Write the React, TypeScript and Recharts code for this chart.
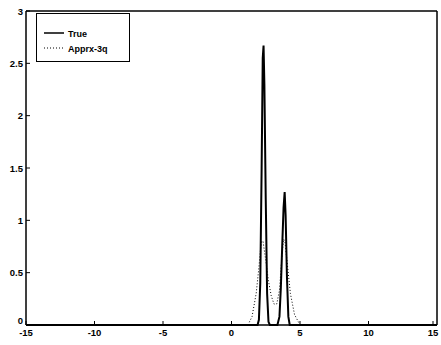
import React from 'react';
import { LineChart, Line, XAxis, YAxis, ReferenceArea } from 'recharts';

const xTicks = [-15, -10, -5, 0, 5, 10, 15];
const yTicks = [0, 0.5, 1, 1.5, 2, 2.5, 3];
const yTickLabels = ['0', '0.5', '1', '1.5', '2', '2.5', '3'];
const seriesNames = ['True', 'Apprx-3q'];

const trueX = [-15, 1.9, 2.0, 2.1, 2.2, 2.28, 2.34, 2.4, 2.5, 2.6, 2.7, 2.8, 3.35, 3.5, 3.6, 3.7, 3.8, 3.88, 3.95, 4.05, 4.15, 4.25, 15];
const trueY = [0, 0, 0.05, 0.4, 1.5, 2.55, 2.67, 2.3, 1.2, 0.3, 0.03, 0, 0, 0.08, 0.35, 0.75, 1.12, 1.27, 1.05, 0.45, 0.08, 0, 0];

const apprxX = [-15, 1.2, 1.5, 1.8, 2.0, 2.1, 2.2, 2.3, 2.5, 2.7, 2.9, 3.1, 3.3, 3.5, 3.65, 3.8, 3.9, 4.1, 4.3, 4.6, 5.0, 15];
const apprxY = [0, 0, 0.08, 0.3, 0.55, 0.7, 0.8, 0.8, 0.62, 0.42, 0.28, 0.2, 0.2, 0.33, 0.6, 0.82, 0.8, 0.55, 0.3, 0.1, 0, 0];

const trueData = trueX.map((x, i) => ({ x, y: trueY[i] }));
const apprxData = apprxX.map((x, i) => ({ x, y: apprxY[i] }));

const FONT = '"Liberation Sans", Arial, sans-serif';

const BottomTick = (props: any) => {
  const { x, y, payload } = props;
  return (
    <g>
      <line x1={x} y1={y} x2={x} y2={y - 4} stroke="#000" strokeWidth={1} />
      <text x={x} y={y + 11} textAnchor="middle" fontSize={9.5} fontWeight="bold" fontFamily={FONT} fill="#000">
        {payload.value}
      </text>
    </g>
  );
};

const TopTick = (props: any) => {
  const { x, y } = props;
  return <line x1={x} y1={y} x2={x} y2={y + 4} stroke="#000" strokeWidth={1} />;
};

const LeftTick = (props: any) => {
  const { x, y, payload } = props;
  const label = yTickLabels[yTicks.indexOf(payload.value)] ?? String(payload.value);
  return (
    <g>
      <line x1={x} y1={y} x2={x + 4} y2={y} stroke="#000" strokeWidth={1} />
      <text x={x - 3} y={payload.value === 0 ? y - 1 : y + 3.5} textAnchor="end" fontSize={9.5} fontWeight="bold" fontFamily={FONT} fill="#000">
        {label}
      </text>
    </g>
  );
};

const RightTick = (props: any) => {
  const { x, y } = props;
  return <line x1={x} y1={y} x2={x - 4} y2={y} stroke="#000" strokeWidth={1} />;
};

const LegendBox = () => (
  <svg width={94} height={49} style={{ display: 'block' }}>
    <rect x={0.5} y={0.5} width={93} height={48} fill="#fff" stroke="#000" strokeWidth={1} />
    <line x1={8} y1={20} x2={28} y2={20} stroke="#000" strokeWidth={1.5} />
    <text x={32} y={23.5} fontSize={9} fontWeight="bold" fontFamily={FONT} fill="#000">{seriesNames[0]}</text>
    <line x1={8} y1={35} x2={28} y2={35} stroke="#000" strokeWidth={1} strokeDasharray="1 2" />
    <text x={32} y={38.5} fontSize={9} fontWeight="bold" fontFamily={FONT} fill="#000">{seriesNames[1]}</text>
  </svg>
);

export default function App() {
  return (
    <div style={{ position: 'absolute', left: 0, top: 0, width: 441, height: 345, background: '#fff' }}>
      <LineChart width={441} height={345} margin={{ top: 10, right: 3, left: 0, bottom: 0 }}>
        <XAxis
          xAxisId="b"
          dataKey="x"
          type="number"
          domain={[-15, 15]}
          ticks={xTicks}
          allowDataOverflow
          orientation="bottom"
          height={20}
          tickSize={0}
          tickMargin={0}
          tick={<BottomTick />}
          axisLine={{ stroke: '#000' }}
          tickLine={false}
        />
        <XAxis
          xAxisId="t"
          dataKey="x"
          type="number"
          domain={[-15, 15]}
          ticks={xTicks}
          orientation="top"
          height={1}
          tickSize={0}
          tickMargin={0}
          tick={<TopTick />}
          axisLine={{ stroke: '#000' }}
          tickLine={false}
        />
        <YAxis
          yAxisId="l"
          type="number"
          domain={[0, 3]}
          ticks={yTicks}
          orientation="left"
          width={26}
          tickSize={0}
          tickMargin={0}
          tick={<LeftTick />}
          axisLine={{ stroke: '#000' }}
          tickLine={false}
        />
        <YAxis
          yAxisId="r"
          type="number"
          domain={[0, 3]}
          ticks={yTicks}
          orientation="right"
          width={1}
          tickSize={0}
          tickMargin={0}
          tick={<RightTick />}
          axisLine={{ stroke: '#000' }}
          tickLine={false}
        />
        <ReferenceArea
          xAxisId="b"
          yAxisId="l"
          x1={-15}
          x2={15}
          y1={0}
          y2={3}
          fill="none"
          fillOpacity={0}
          stroke="#000"
          strokeWidth={1}
          ifOverflow="visible"
        />
        <Line
          xAxisId="b"
          yAxisId="l"
          data={apprxData}
          dataKey="y"
          name={seriesNames[1]}
          type="linear"
          stroke="#000"
          strokeWidth={1}
          strokeDasharray="1 2"
          dot={false}
          isAnimationActive={false}
        />
        <Line
          xAxisId="b"
          yAxisId="l"
          data={trueData}
          dataKey="y"
          name={seriesNames[0]}
          type="linear"
          stroke="#000"
          strokeWidth={2}
          dot={false}
          isAnimationActive={false}
        />
      </LineChart>
      <div style={{ position: 'absolute', left: 36, top: 13 }}>
        <LegendBox />
      </div>
    </div>
  );
}
